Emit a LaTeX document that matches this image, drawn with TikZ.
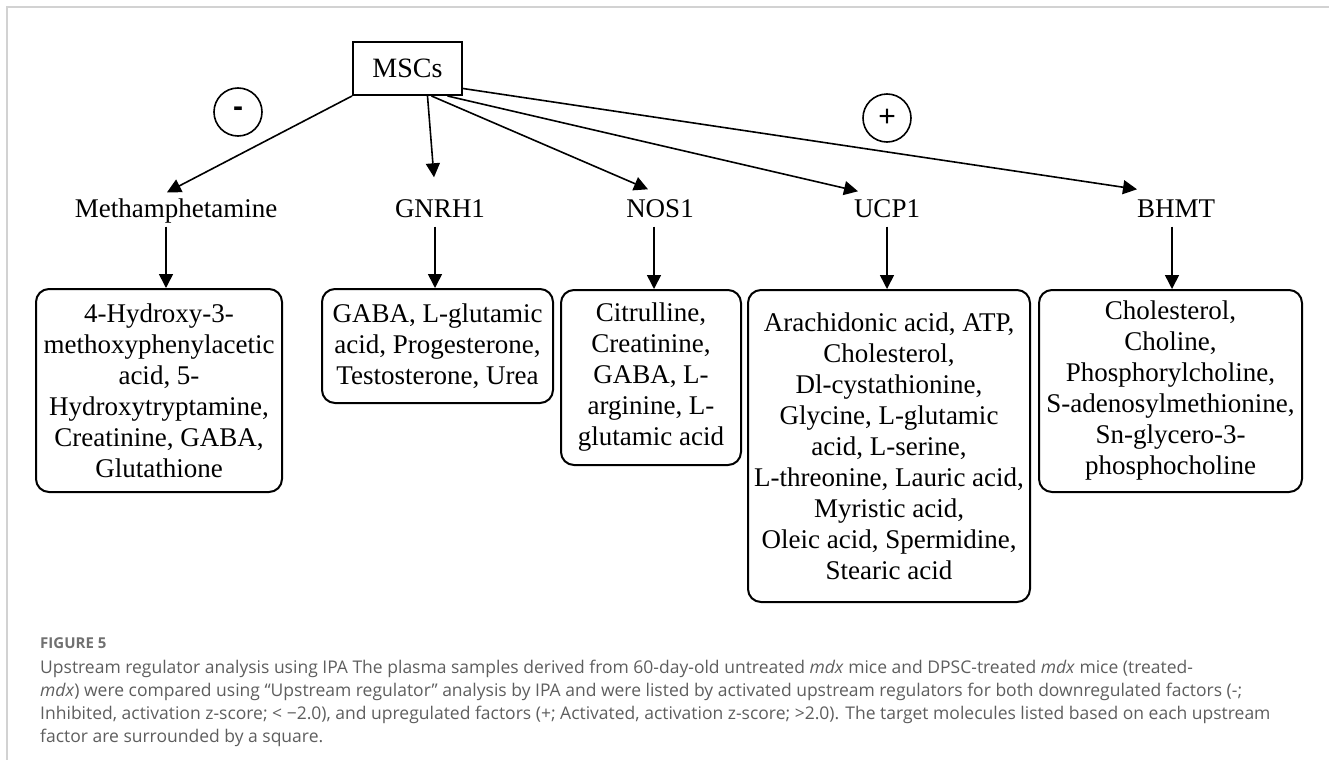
\documentclass[tikz,border=0pt]{standalone}
\usepackage{fontspec}
\usetikzlibrary{ arrows.meta, % For the filled arrow tips
                 shapes,      % For circles and so
               }
\newfontfamily\diafont{Liberation Serif}
\newfontfamily\signfont{Liberation Sans}
\newfontfamily\capfont{Open Sans}
\definecolor{framegray}{HTML}{D2D2D2}
\definecolor{capgray}{HTML}{5E5E5E}
\definecolor{headgray}{HTML}{707070}

\begin{document}
\begin{tikzpicture}[x=1pt, y=-1pt,
    every node/.style={font=\diafont\fontsize{27}{31}\selectfont},
    regulator/.style={inner sep=3pt, text height=19pt, text depth=6pt},
    source/.style={draw, line width=2pt, minimum width=109, minimum height=53, inner sep=0pt,
                   font=\diafont\fontsize{28}{32}\selectfont},
    sign/.style={draw, circle, line width=1.6pt, minimum size=48, inner sep=0pt,
                 font=\signfont\fontsize{30}{34}\selectfont},
    targets/.style={draw, rounded corners=13pt, line width=2pt, align=center, inner sep=2pt},
    arr/.style={line width=1.6pt, -{Triangle[length=14pt,width=14pt]}},
    caption/.style={anchor=base west, inner sep=0pt, text=capgray,
                    font=\capfont\fontsize{17.5}{23}\selectfont},
  ]
    \useasboundingbox (0,0) rectangle (1329,760);
    \draw[framegray, line width=1.5pt] (1329,7) -- (7,7) -- (7,760);

    % source and the two signs
    \node[source] (mscs) at (407.5,68.5) {MSCs};
    \node[sign] (minus) at (238,112) {\bfseries -};
    \node[sign] (plus) at (887,118) {+};

    % upstream regulators
    \node[regulator] (meth) at (176,211) {Methamphetamine};
    \node[regulator] (gnrh) at (440,211) {GNRH1};
    \node[regulator] (nos) at (660,211) {NOS1};
    \node[regulator] (ucp) at (887,211) {UCP1};
    \node[regulator] (bhmt) at (1176,211) {BHMT};

    % target molecules
    \node[targets, minimum width=246, minimum height=203] (methtargets) at (159,390.5)
      {4-Hydroxy-3-\\methoxyphenylacetic\\acid, 5-\\Hydroxytryptamine,\\Creatinine, GABA,\\Glutathione};
    \node[targets, minimum width=231, minimum height=114] (gnrhtargets) at (437.5,346)
      {GABA, L-glutamic\\acid, Progesterone,\\Testosterone, Urea};
    \node[targets, minimum width=180, minimum height=175] (nostargets) at (651,377.5)
      {Citrulline,\\Creatinine,\\GABA, L-\\arginine, L-\\glutamic acid};
    \node[targets, minimum width=282, minimum height=312] (ucptargets) at (889,446)
      {Arachidonic acid, ATP,\\Cholesterol,\\Dl-cystathionine,\\Glycine, L-glutamic\\acid, L-serine,\\L-threonine, Lauric acid,\\Myristic acid,\\Oleic acid, Spermidine,\\Stearic acid};
    \node[targets, minimum width=263, minimum height=202] (bhmttargets) at (1170.5,391)
      {Cholesterol,\\Choline,\\Phosphorylcholine,\\S-adenosylmethionine,\\Sn-glycero-3-\\phosphocholine};

    \draw[arr] (mscs.south west) -- ([xshift=-9pt, yshift=3pt]meth.north);
    \draw[arr] ([xshift=20pt]mscs.south) -- ([xshift=-6pt, yshift=18pt]gnrh.north);
    \draw[arr] ([xshift=24pt]mscs.south) -- ([xshift=-12pt, yshift=6pt]nos.north);
    \draw[arr] ([xshift=40pt]mscs.south) -- ([xshift=-29pt, yshift=4pt]ucp.north);
    \draw[arr] ([yshift=-20pt]mscs.east) -- ([xshift=-39pt, yshift=6pt]bhmt.north);

    \draw[arr] ([xshift=-10pt]meth.south) -- ([xshift=7pt]methtargets.north);
    \draw[arr] ([xshift=-5pt]gnrh.south) -- ([xshift=-2.5pt]gnrhtargets.north);
    \draw[arr] ([xshift=-6pt]nos.south) -- ([xshift=3pt]nostargets.north);
    \draw[arr] (ucp.south) -- ([xshift=-2pt]ucptargets.north);
    \draw[arr] ([xshift=-4pt]bhmt.south) -- ([xshift=1.5pt]bhmttargets.north);

    % caption
    \node[caption, text=headgray, font=\capfont\bfseries\fontsize{15}{20}\selectfont] (fighead) at (40,648) {FIGURE 5};
    \node[caption] (capa) at (40,673) {Upstream regulator analysis using IPA The plasma samples derived from 60-day-old untreated \textit{mdx} mice and DPSC-treated \textit{mdx} mice (treated-};
    \node[caption] (capb) at (40,696) {\textit{mdx}) were compared using “Upstream regulator” analysis by IPA and were listed by activated upstream regulators for both downregulated factors (-;};
    \node[caption] (capc) at (40,719) {Inhibited, activation z-score; < −2.0), and upregulated factors (+; Activated, activation z-score; >2.0). The target molecules listed based on each upstream};
    \node[caption] (capd) at (40,742) {factor are surrounded by a square.};
\end{tikzpicture}
\end{document}
